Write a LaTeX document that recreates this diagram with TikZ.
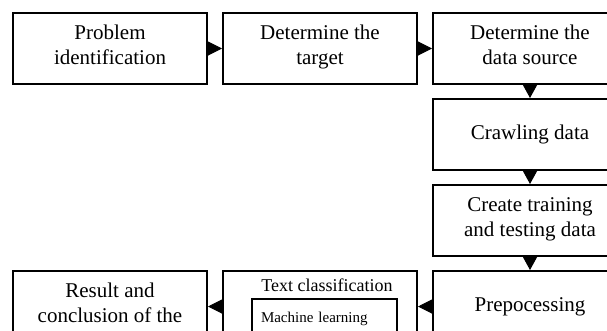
\documentclass[tikz,border=0pt]{standalone}
\usepackage{fontspec}
\setmainfont{Liberation Serif}
\usetikzlibrary{arrows.meta,positioning}
\tikzset{box/.style={draw, line width=2pt, minimum width=194pt, minimum height=71pt, inner sep=0, align=center,
    font=\fontsize{21}{25}\selectfont, execute at begin node=\strut, execute at end node=\strut},
  arr/.style={line width=1pt, -{Triangle[length=#1,width=14pt]}}, arr/.default=13pt}

\begin{document}
\begin{tikzpicture}[x=1pt,y=-1pt]
    \clip (0,0) rectangle (607,330);

    \node[box, anchor=north west](prob) at (12,12) {Problem\\identification};
    \node[box, right=14pt of prob](target) {Determine the\\target};
    \node[box, right=14pt of target](source) {Determine the\\data source};
    \node[box, below=13pt of source](crawl) {Crawling data};
    \node[box, below=13pt of crawl](split) {Create training\\and testing data};
    \node[box, below=13pt of split](prep) {Prepocessing};
    \node[box, left=14pt of prep](classif) {};
    \node[box, left=14pt of classif](result) {Result and\\conclusion of the};

    \node[font=\fontsize{18}{21}\selectfont](classiftitle) at (327,285) {Text classification};
    \node[draw, line width=2pt, anchor=north west, minimum width=145pt, minimum height=40pt,
      inner xsep=9pt, inner ysep=0, text width=127pt, align=left,
      font=\fontsize{15}{18}\selectfont](ml) at (251,298) {Machine learning};

    \draw[arr=14pt] (prob) -- (target);
    \draw[arr=14pt] (target) -- (source);
    \draw[arr] (source) -- (crawl);
    \draw[arr] (crawl) -- (split);
    \draw[arr] (split) -- (prep);
    \draw[arr=14pt] (prep) -- (classif);
    \draw[arr=14pt] (classif) -- (result);
\end{tikzpicture}
\end{document}
